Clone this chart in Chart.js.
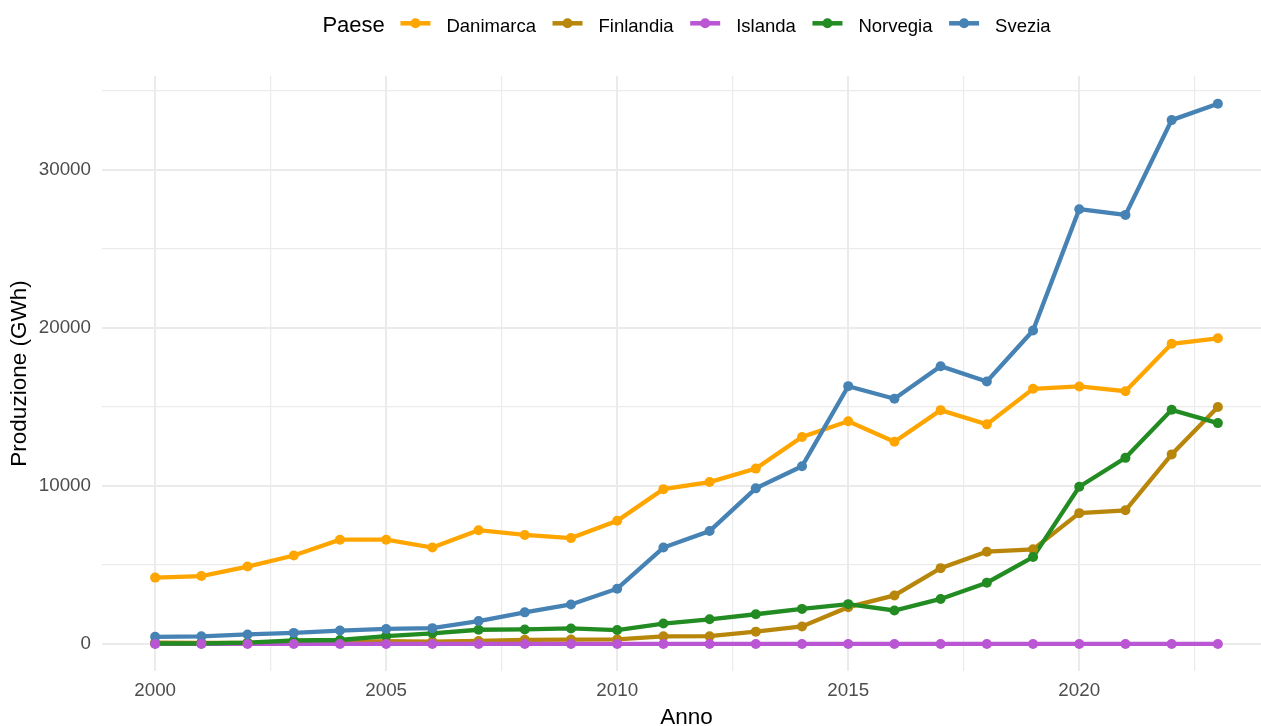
<!DOCTYPE html>
<html>
<head>
<meta charset="utf-8">
<script src="https://cdn.jsdelivr.net/npm/chart.js@4/dist/chart.umd.min.js"></script>
<style>
html,body{margin:0;padding:0;overflow:hidden;background:#ffffff;}
canvas{display:block;}
</style>
</head>
<body>
<canvas id="c" width="1280" height="740" style="width:1280px;height:740px"></canvas>
<script>
// ---- data ----
const years = [2000,2001,2002,2003,2004,2005,2006,2007,2008,2009,2010,2011,2012,2013,2014,2015,2016,2017,2018,2019,2020,2021,2022,2023];
const danimarca = [4200,4300,4900,5600,6600,6600,6100,7200,6900,6700,7800,9800,10250,11100,13100,14100,12800,14800,13900,16150,16300,16000,19000,19350];
const finlandia = [80,70,60,90,120,170,150,190,260,280,290,480,490,780,1110,2330,3070,4800,5840,5990,8280,8460,12000,15000];
const islanda   = [0,0,0,0,0,0,0,0,0,0,0,0,0,0,0,0,0,0,0,0,0,0,0,0];
const norvegia  = [30,30,80,220,250,500,670,900,920,980,880,1290,1560,1880,2220,2520,2120,2850,3880,5500,9950,11780,14820,13980];
const svezia    = [450,480,600,700,850,950,1000,1450,2000,2500,3500,6100,7150,9850,11250,16320,15520,17580,16610,19840,27520,27160,33160,34190];

const seriesNames  = ['Danimarca','Finlandia','Islanda','Norvegia','Svezia'];
const seriesValues = [danimarca, finlandia, islanda, norvegia, svezia];
const seriesColors = ['#FFA500','#B8860B','#BA55D3','#228B22','#4682B4'];
// drawing order (lower = on top): lines drawn first, then points
const lineOrder  = [15, 14, 13, 12, 11];
const pointOrder = [5, 4, 1, 3, 2];

const xMajorTicks = [2000,2005,2010,2015,2020];
const xMinorTicks = [2002.5,2007.5,2012.5,2017.5,2022.5];
const yMajorTicks = [0,10000,20000,30000];
const yMinorTicks = [5000,15000,25000,35000];

const legendTitle = 'Paese';
const xTitle = 'Anno';
const yTitle = 'Produzione (GWh)';

const FONT = '"Liberation Sans", Arial, Helvetica, sans-serif';

const datasets = [];
seriesNames.forEach((name, i) => {
  const pts = years.map((yr, j) => ({x: yr, y: seriesValues[i][j]}));
  datasets.push({
    label: name,
    data: pts,
    borderColor: seriesColors[i],
    backgroundColor: seriesColors[i],
    borderWidth: 4.3,
    pointRadius: 0,
    pointHoverRadius: 0,
    tension: 0,
    fill: false,
    order: lineOrder[i]
  });
  datasets.push({
    label: name + ' (punti)',
    data: pts,
    showLine: false,
    borderColor: seriesColors[i],
    backgroundColor: seriesColors[i],
    pointRadius: 5,
    pointBorderWidth: 0,
    pointHoverRadius: 5,
    fill: false,
    order: pointOrder[i]
  });
});

const legendPlugin = {
  id: 'ggLegend',
  afterDraw(chart) {
    const ctx = chart.ctx;
    const ca = chart.chartArea;
    ctx.save();
    const titleFont = '22px ' + FONT;
    const itemFont = '18.5px ' + FONT;
    ctx.font = titleFont;
    const titleW = ctx.measureText(legendTitle).width;
    ctx.font = itemFont;
    const textWs = seriesNames.map(n => ctx.measureText(n).width);
    const symW = 30, gapTitle = 15.7, gapSym = 16, gapItem = 16.6;
    let total = titleW + gapTitle;
    textWs.forEach((w, i) => { total += symW + gapSym + w + (i < textWs.length - 1 ? gapItem : 0); });
    let x = (ca.left + ca.right) / 2 - total / 2;
    const baseY = 32;
    const symY = 23.3;
    ctx.fillStyle = '#000000';
    ctx.textBaseline = 'alphabetic';
    ctx.textAlign = 'left';
    ctx.font = titleFont;
    ctx.fillText(legendTitle, x, baseY);
    x += titleW + gapTitle;
    ctx.font = itemFont;
    seriesNames.forEach((name, i) => {
      ctx.strokeStyle = seriesColors[i];
      ctx.lineWidth = 4.5;
      ctx.lineCap = 'butt';
      ctx.beginPath();
      ctx.moveTo(x, symY);
      ctx.lineTo(x + symW, symY);
      ctx.stroke();
      ctx.fillStyle = seriesColors[i];
      ctx.beginPath();
      ctx.arc(x + symW / 2, symY, 5, 0, Math.PI * 2);
      ctx.fill();
      x += symW + gapSym;
      ctx.fillStyle = '#000000';
      ctx.fillText(name, x, baseY);
      x += textWs[i] + gapItem;
    });
    ctx.restore();
  }
};

new Chart(document.getElementById('c'), {
  type: 'line',
  data: { datasets },
  plugins: [legendPlugin],
  options: {
    responsive: false,
    animation: false,
    devicePixelRatio: 1,
    layout: { padding: { top: 76, right: 9, bottom: 0, left: 0 } },
    plugins: {
      legend: { display: false },
      tooltip: { enabled: false },
      title: { display: false }
    },
    scales: {
      x: {
        type: 'linear',
        min: 1998.85,
        max: 2024.15,
        afterBuildTicks: (s) => { s.ticks = [...xMajorTicks, ...xMinorTicks].sort((a,b)=>a-b).map(v => ({value: v})); },
        afterFit: (s) => { s.height = 69; },
        ticks: {
          autoSkip: false,
          maxRotation: 0,
          padding: 9,
          color: '#4D4D4D',
          font: { family: FONT, size: 18.8 },
          callback: (v) => xMajorTicks.includes(v) ? String(v) : ''
        },
        grid: {
          color: '#EBEBEB',
          lineWidth: (c) => (c.tick && xMajorTicks.includes(c.tick.value)) ? 2 : 1.2,
          drawTicks: false
        },
        border: { display: false },
        title: {
          display: true,
          text: xTitle,
          color: '#000000',
          font: { family: FONT, size: 22.5 },
          padding: { top: 0, bottom: 8.8 }
        }
      },
      y: {
        type: 'linear',
        min: -1712,
        max: 35952,
        afterBuildTicks: (s) => { s.ticks = [...yMajorTicks, ...yMinorTicks].sort((a,b)=>a-b).map(v => ({value: v})); },
        afterFit: (s) => { s.width = 102; },
        ticks: {
          autoSkip: false,
          padding: 11,
          color: '#4D4D4D',
          font: { family: FONT, size: 18.8 },
          callback: (v) => yMajorTicks.includes(v) ? String(v) : ''
        },
        grid: {
          color: '#EBEBEB',
          lineWidth: (c) => (c.tick && yMajorTicks.includes(c.tick.value)) ? 2 : 1.2,
          drawTicks: false
        },
        border: { display: false },
        title: {
          display: true,
          text: yTitle,
          color: '#000000',
          font: { family: FONT, size: 22.5 },
          padding: { top: 5.8, bottom: 0 }
        }
      }
    }
  }
});
</script>
</body>
</html>
